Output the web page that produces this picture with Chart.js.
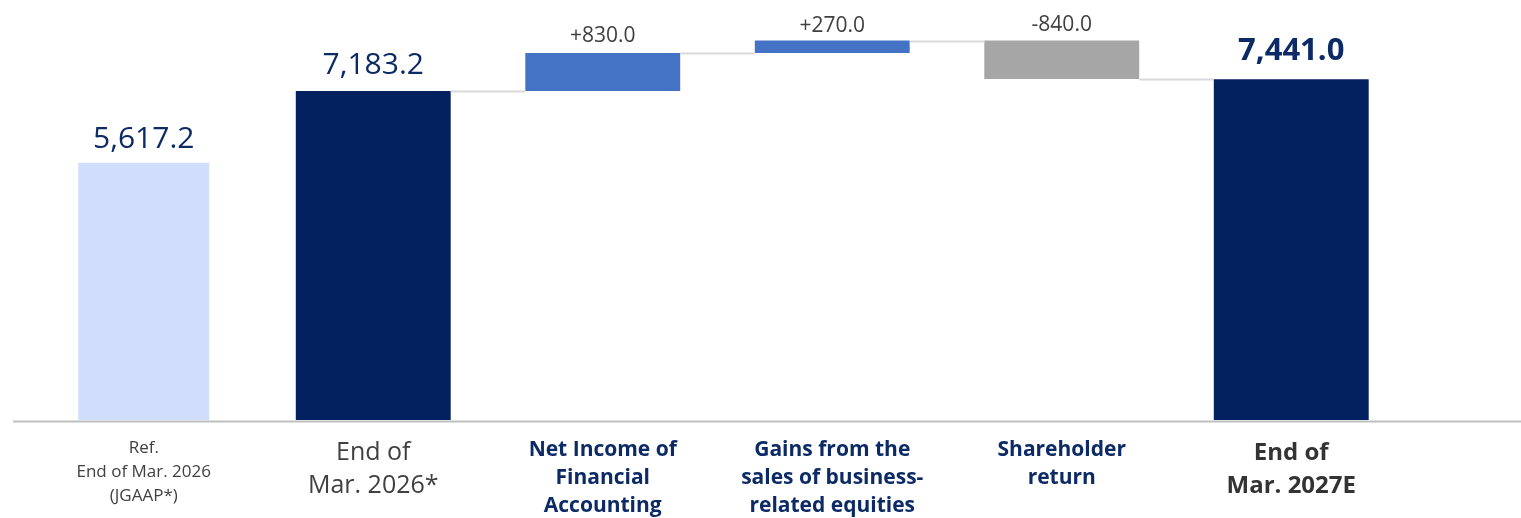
<!DOCTYPE html>
<html>
<head>
<meta charset="utf-8">
<script src="https://cdn.jsdelivr.net/npm/chart.js@4.4.1/dist/chart.umd.min.js"></script>
<style>
html, body { margin: 0; padding: 0; background: #ffffff; }
</style>
</head>
<body>
<canvas id="waterfall" width="1521" height="518"></canvas>
<script>
'use strict'
//카테고리 (여러 줄 라벨)
const categories = [
    ['Ref.', 'End of Mar. 2026', '(JGAAP*)'],
    ['End of', 'Mar. 2026*'],
    ['Net Income of', 'Financial', 'Accounting'],
    ['Gains from the', 'sales of business-', 'related equities'],
    ['Shareholder', 'return'],
    ['End of', 'Mar. 2027E']
];
//참고값
const refValue = 5617.2;
//시작값
const startValue = 7183.2;
//증감
const changes = [830.0, 270.0, -840.0];
//최종값
const endValue = 7441.0;
//y축 범위
const yMin = 0;
const yMax = 9170;

//==================================================================================================

const NAVY = '#03215e';
const LABEL_NAVY = '#0c2a66';
const FONT = "'Open Sans', 'Noto Sans', sans-serif";

const barColors = ['#d0defb', NAVY, '#4472c4', '#4472c4', '#a6a6a6', NAVY];
const tickColors = ['#404040', '#404040', '#0c2a66', '#0c2a66', '#0c2a66', '#333333'];
const tickFonts = [
    { family: FONT, size: 17, lineHeight: 1.42 },
    { family: FONT, size: 25, lineHeight: 1.34 },
    { family: FONT, size: 21, weight: 'bold', lineHeight: 1.34 },
    { family: FONT, size: 21, weight: 'bold', lineHeight: 1.34 },
    { family: FONT, size: 21, weight: 'bold', lineHeight: 1.34 },
    { family: FONT, size: 24, weight: 'bold', lineHeight: 1.4 }
];
//값 라벨 스타일
const valueStyles = [
    { font: 'normal 30px ' + FONT, color: LABEL_NAVY, gap: 15 },
    { font: 'normal 30px ' + FONT, color: LABEL_NAVY, gap: 17 },
    { font: 'normal 21px ' + FONT, color: '#404040', gap: 11 },
    { font: 'normal 21px ' + FONT, color: '#404040', gap: 9 },
    { font: 'normal 21px ' + FONT, color: '#404040', gap: 10 },
    { font: 'bold 31px ' + FONT, color: LABEL_NAVY, gap: 19 }
];

//==================================================================================================

//숫자 포맷
function fmt(v, sign){
    let s = Math.abs(v).toLocaleString('en-US', { minimumFractionDigits: 1, maximumFractionDigits: 1 });
    if(sign)
        return (v >= 0 ? '+' : '-') + s;
    return (v < 0 ? '-' : '') + s;
}

//폭포 차트 구간 계산
let level = startValue;
const mainRanges = [null, [0, startValue]];
const connectLevels = [startValue];
const valueTexts = [fmt(refValue), fmt(startValue)];
changes.forEach((c) => {
    let next = level + c;
    mainRanges.push([Math.min(level, next), Math.max(level, next)]);
    valueTexts.push(fmt(c, true));
    connectLevels.push(next);
    level = next;
});
mainRanges.push([0, endValue]);
valueTexts.push(fmt(endValue));
const refRanges = categories.map((c, i) => (i === 0 ? [0, refValue] : null));

//연결선 + 축선 + 값 라벨 플러그인
const waterfallDeco = {
    id: 'waterfallDeco',
    afterDatasetsDraw(chart){
        const ctx = chart.ctx;
        const y = chart.scales.y;
        const mainMeta = chart.getDatasetMeta(1);
        const refMeta = chart.getDatasetMeta(0);
        const bars = mainMeta.data.map((el, i) => (i === 0 ? refMeta.data[0] : el));

        ctx.save();
        //연결선
        ctx.strokeStyle = '#d9d9d9';
        ctx.lineWidth = 2;
        for(let i = 1; i < bars.length - 1; i++){
            const a = bars[i], b = bars[i + 1];
            const py = Math.round(y.getPixelForValue(connectLevels[i - 1])) + 0.5;
            ctx.beginPath();
            ctx.moveTo(a.x + a.width / 2, py);
            ctx.lineTo(b.x - b.width / 2, py);
            ctx.stroke();
        }
        //축선
        const zy = y.getPixelForValue(0);
        ctx.strokeStyle = '#bfbfbf';
        ctx.beginPath();
        ctx.moveTo(13, zy + 1.5);
        ctx.lineTo(chart.width, zy + 1.5);
        ctx.stroke();
        //값 라벨
        ctx.textAlign = 'center';
        ctx.textBaseline = 'alphabetic';
        bars.forEach((el, i) => {
            const st = valueStyles[i];
            const top = Math.min(el.y, el.base);
            ctx.font = st.font;
            ctx.fillStyle = st.color;
            ctx.fillText(valueTexts[i], el.x, top - st.gap);
        });
        ctx.restore();
    }
};

new Chart(document.getElementById('waterfall'), {
    type: 'bar',
    data: {
        labels: categories,
        datasets: [
            {
                data: refRanges,
                backgroundColor: barColors,
                grouped: false,
                barPercentage: 0.571,
                categoryPercentage: 1
            },
            {
                data: mainRanges,
                backgroundColor: barColors,
                grouped: false,
                barPercentage: 0.675,
                categoryPercentage: 1
            }
        ]
    },
    options: {
        responsive: false,
        animation: false,
        devicePixelRatio: 1,
        layout: { padding: { left: 29, right: 115, top: 0, bottom: 0 } },
        plugins: {
            legend: { display: false },
            tooltip: { enabled: false }
        },
        scales: {
            x: {
                grid: { display: false, drawTicks: false },
                border: { display: false },
                ticks: {
                    autoSkip: false,
                    maxRotation: 0,
                    padding: 16,
                    font: (c) => tickFonts[c.index],
                    color: (c) => tickColors[c.index]
                },
                afterFit: (s) => { s.height = 98; }
            },
            y: {
                display: false,
                min: yMin,
                max: yMax
            }
        }
    },
    plugins: [waterfallDeco]
});
</script>
</body>
</html>
